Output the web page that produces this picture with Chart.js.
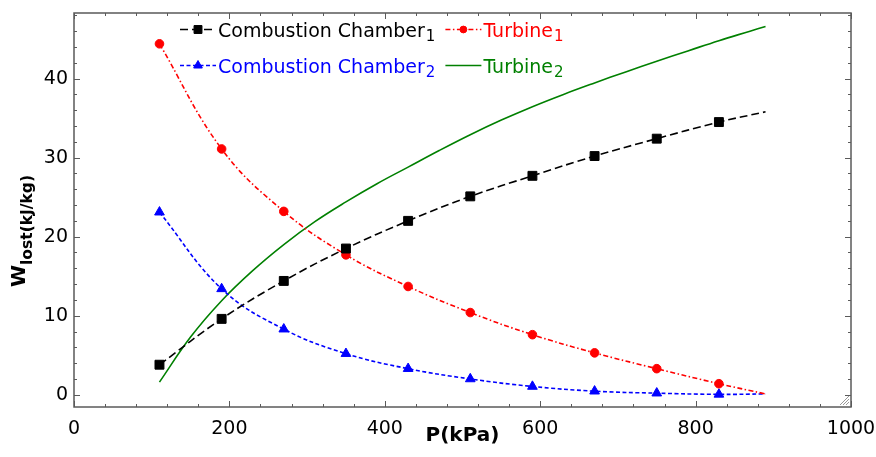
<!DOCTYPE html>
<html><head><meta charset="utf-8">
<script src="https://cdn.jsdelivr.net/npm/chart.js@4"></script>
<style>html,body{margin:0;padding:0;background:#fff;}canvas{display:block;}</style>
</head><body>
<canvas id="c" width="876" height="457"></canvas>
<script>
// ---- data ----
const pressure = [110, 190, 270, 350, 430, 510, 590, 670, 750, 830, 890];
const combustion1 = [3.8, 9.6, 14.4, 18.5, 22.0, 25.1, 27.7, 30.2, 32.4, 34.5, 35.8];
const turbine1 = [44.4, 31.1, 23.2, 17.7, 13.7, 10.4, 7.6, 5.3, 3.3, 1.4, 0.1];
const combustion2 = [23.1, 13.4, 8.3, 5.2, 3.3, 2.0, 1.05, 0.45, 0.2, 0.05, 0.1];
const pressureT2 = [110, 150, 190, 230, 270, 310, 350, 390, 430, 470, 510, 550, 590, 630, 670, 710, 750, 790, 830, 870, 890];
const turbine2 = [1.6, 7.3, 11.9, 15.7, 19.0, 21.9, 24.4, 26.7, 28.8, 30.9, 32.9, 34.75, 36.45, 38.0, 39.45, 40.85, 42.2, 43.5, 44.8, 46.0, 46.6];
const xTicks = [0, 200, 400, 600, 800, 1000];
const yTicks = [0, 10, 20, 30, 40];
const seriesNames = ['Combustion Chamber', 'Turbine', 'Combustion Chamber', 'Turbine'];
const seriesSubs = ['1', '1', '2', '2'];
const xTitle = 'P(kPa)';
const yTitleMain = 'W';
const yTitleSub = 'lost(kJ/kg)';

const pts = (xs, ys) => xs.map((x, i) => ({x, y: ys[i]}));
const markerRadius = (r, n) => Array.from({length: n}, (_, i) => i === n - 1 ? 0 : r);

const FONT = '"DejaVu Sans", sans-serif';

const datasets = [
  {label: seriesNames[0], data: pts(pressure, combustion1), borderColor: '#000', backgroundColor: '#000',
   borderWidth: 1.6, borderDash: [8, 4], pointStyle: 'rect', pointRadius: markerRadius(6.3, pressure.length),
   pointBorderWidth: 1, legendRadius: 5.6},
  {label: seriesNames[1], data: pts(pressure, turbine1), borderColor: '#ff0000', backgroundColor: '#ff0000',
   borderWidth: 1.6, borderDash: [5, 2.5, 1.5, 2.5], pointStyle: 'circle', pointRadius: markerRadius(4.3, pressure.length),
   pointBorderWidth: 1, legendRadius: 3.4},
  {label: seriesNames[2], data: pts(pressure, combustion2), borderColor: '#0000ff', backgroundColor: '#0000ff',
   borderWidth: 1.6, borderDash: [4, 2.5], pointStyle: 'triangle', pointRadius: markerRadius(5.6, pressure.length),
   pointBorderWidth: 1, legendRadius: 5},
  {label: seriesNames[3], data: pts(pressureT2, turbine2), borderColor: '#008000', backgroundColor: '#008000',
   borderWidth: 1.6, borderDash: [], pointStyle: false, pointRadius: 0, legendRadius: 0}
];
datasets.forEach(d => { d.tension = 0.4; d.fill = false; });

const framePlugin = {
  id: 'frame',
  beforeDatasetsDraw(chart) {
    const ctx = chart.ctx, xs = chart.scales.x, ys = chart.scales.y;
    const {left, right, top, bottom} = chart.chartArea;
    ctx.save();
    ctx.strokeStyle = '#5a5a5a';
    ctx.lineWidth = 1.5;
    ctx.setLineDash([]);
    ctx.strokeRect(left, top, right - left, bottom - top);
    ctx.lineWidth = 1;
    ctx.beginPath();
    for (let v = xs.min; v <= xs.max + 1e-6; v += 40) {
      const p = Math.round(xs.getPixelForValue(v)) + 0.5;
      const len = xTicks.includes(v) ? 6 : 3;
      ctx.moveTo(p, bottom); ctx.lineTo(p, bottom - len);
      ctx.moveTo(p, top); ctx.lineTo(p, top + len);
    }
    for (let v = 0; v <= ys.max + 1e-6; v += 2) {
      const p = Math.round(ys.getPixelForValue(v)) + 0.5;
      const len = yTicks.includes(v) ? 6 : 3;
      ctx.moveTo(left, p); ctx.lineTo(left + len, p);
      ctx.moveTo(right, p); ctx.lineTo(right - len, p);
    }
    ctx.stroke();
    // resize grip in the corner
    ctx.strokeStyle = '#999';
    ctx.beginPath();
    for (let k = 3; k <= 9; k += 3) {
      ctx.moveTo(right - 2 - k, bottom - 2); ctx.lineTo(right - 2, bottom - 2 - k);
    }
    ctx.stroke();
    ctx.restore();
  },
  afterDraw(chart) {
    const ctx = chart.ctx;
    ctx.save();
    // y title with subscript
    ctx.fillStyle = '#000';
    ctx.translate(25, 287);
    ctx.rotate(-Math.PI / 2);
    ctx.textBaseline = 'alphabetic';
    ctx.textAlign = 'left';
    ctx.font = 'bold 20px ' + FONT;
    ctx.fillText(yTitleMain, 0, 0);
    const wW = ctx.measureText(yTitleMain).width;
    ctx.font = 'bold 15.5px ' + FONT;
    ctx.fillText(yTitleSub, wW, 7);
    ctx.restore();

    // legend
    const ds = chart.data.datasets;
    const mainFont = '19px ' + FONT, subFont = '15px ' + FONT;
    const rowsY = [37, 73];
    const sampleW = 36;
    const measure = i => {
      ctx.font = mainFont; const a = ctx.measureText(seriesNames[i]).width;
      ctx.font = subFont; const b = ctx.measureText(seriesSubs[i]).width;
      return a + 1 + b;
    };
    ctx.save();
    const col1 = 180;
    const col2 = col1 + sampleW + 2 + Math.max(measure(0), measure(2)) + 10;
    const layout = [[0, col1, 0], [1, col2, 0], [2, col1, 1], [3, col2, 1]];
    layout.forEach(([i, x, r]) => {
      const d = ds[i], base = rowsY[r], ly = base - 7.5;
      ctx.strokeStyle = d.borderColor;
      ctx.lineWidth = d.borderWidth;
      ctx.setLineDash(d.borderDash);
      ctx.beginPath(); ctx.moveTo(x, ly); ctx.lineTo(x + sampleW, ly); ctx.stroke();
      ctx.setLineDash([]);
      if (d.pointStyle) {
        ctx.fillStyle = d.backgroundColor;
        ctx.lineWidth = 1;
        Chart.helpers.drawPoint(ctx, {pointStyle: d.pointStyle, radius: d.legendRadius, rotation: 0, borderWidth: 1}, x + sampleW / 2, ly);
      }
      ctx.fillStyle = d.borderColor;
      ctx.textBaseline = 'alphabetic';
      ctx.textAlign = 'left';
      ctx.font = mainFont;
      const tx = x + sampleW + 2;
      ctx.fillText(seriesNames[i], tx, base);
      const w = ctx.measureText(seriesNames[i]).width;
      ctx.font = subFont;
      ctx.fillText(seriesSubs[i], tx + w + 1, base + 3.8);
    });
    ctx.restore();
  }
};

new Chart(document.getElementById('c'), {
  type: 'line',
  data: {datasets},
  plugins: [framePlugin],
  options: {
    responsive: false,
    animation: false,
    devicePixelRatio: 1,
    layout: {padding: {left: 0, right: 25, top: 13, bottom: 0}},
    plugins: {legend: {display: false}, tooltip: {enabled: false}},
    scales: {
      x: {
        type: 'linear', min: 0, max: 1000,
        afterBuildTicks: s => { s.ticks = xTicks.map(v => ({value: v})); },
        afterFit: s => { s.height = 50; s.paddingLeft = 0; s.paddingRight = 0; },
        grid: {display: false, drawTicks: false},
        border: {display: false},
        ticks: {color: '#000', font: {family: FONT, size: 19}, padding: 11, maxRotation: 0, autoSkip: false,
                callback: v => String(v)},
        title: {display: true, text: xTitle, color: '#000', font: {family: FONT, size: 20, weight: 'bold'}, padding: {top: 0, bottom: 9}}
      },
      y: {
        type: 'linear', min: -1.55, max: 48.3,
        afterBuildTicks: s => { s.ticks = yTicks.map(v => ({value: v})); },
        afterFit: s => { s.width = 74; s.paddingTop = 0; s.paddingBottom = 0; },
        grid: {display: false, drawTicks: false},
        border: {display: false},
        ticks: {color: '#000', font: {family: FONT, size: 19}, padding: 6, callback: v => String(v)}
      }
    }
  }
});
</script>
</body></html>
